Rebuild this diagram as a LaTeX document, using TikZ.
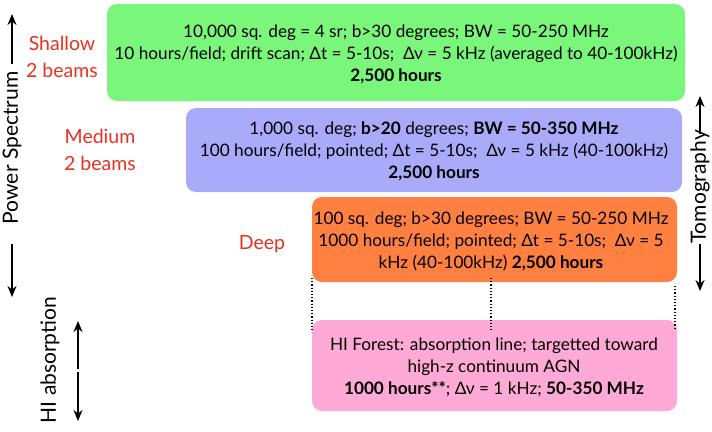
\documentclass[tikz,border=0pt]{standalone}
\usepackage{fontspec}
\setmainfont{Lato}
\usetikzlibrary{arrows.meta}
\definecolor{gbox}{RGB}{122,246,122}
\definecolor{bbox}{RGB}{170,170,250}
\definecolor{obox}{RGB}{255,128,64}
\definecolor{pbox}{RGB}{255,170,214}
\definecolor{redlab}{RGB}{232,50,30}
\tikzset{
  surveybox/.style={rounded corners=10pt, draw=none},
  boxtext/.style={align=center, font=\fontsize{17.2}{22}\selectfont, inner sep=0pt},
  redlabel/.style={text=redlab, align=center, font=\fontsize{19.5}{27}\selectfont, inner sep=0pt},
  sidelabel/.style={rotate=90, font=\fontsize{21}{22}\selectfont, inner sep=0pt},
  axarrow/.style={-{Stealth[length=11pt,width=9pt]}, line width=2pt},
  linker/.style={dotted, line width=1.2pt}
}
\begin{document}
\begin{tikzpicture}[x=1pt,y=-1pt]
\useasboundingbox (0,0) rectangle (712,431);
% boxes
\fill[gbox, surveybox] (107,4) rectangle (685,101);
\fill[bbox, surveybox] (186,108) rectangle (682,192);
\fill[obox, surveybox] (312,197) rectangle (677,282);
\fill[pbox, surveybox] (312,320) rectangle (677,411);
% dotted links
\coordinate (dl1) at (312,278); \coordinate (dl2) at (312,332);
\coordinate (dm1) at (491,278); \coordinate (dm2) at (491,330);
\coordinate (dr1) at (675,286); \coordinate (dr2) at (675,330);
\draw[linker] (dl1) -- (dl2);
\draw[linker] (dm1) -- (dm2);
\draw[linker] (dr1) -- (dr2);
% texts
\node[boxtext] (gt) at (396,54) {10,000 sq. deg = 4 sr; b>30 degrees; BW = 50-250 MHz\\
10 hours/field; drift scan; Δt = 5-10s;\ \ Δν = 5 kHz (averaged to 40-100kHz)\\
\textbf{2,500 hours}};
\node[boxtext] (bt) at (434,151) {1,000 sq. deg; \textbf{b>20} degrees; \textbf{BW = 50-350 MHz}\\
100 hours/field; pointed; Δt = 5-10s;\ \ Δν = 5 kHz (40-100kHz)\\
\textbf{2,500 hours}};
\node[boxtext] (ot) at (491,241) {100 sq. deg; b>30 degrees; BW = 50-250 MHz\\
1000 hours/field; pointed; Δt = 5-10s;\ \ Δν = 5\\
kHz (40-100kHz) \textbf{2,500 hours}};
\node[boxtext] (pt) at (494,367) {HI Forest: absorption line; targetted toward\\
high-z continuum AGN\\
\textbf{1000 hours**}; Δν = 1 kHz; \textbf{50-350 MHz}};
% red labels
\node[redlabel] (shallow) at (62,57) {Shallow\\2 beams};
\node[redlabel] (medium) at (100,150) {Medium\\2 beams};
\node[redlabel] (deep) at (262,244) {Deep};
% side labels
\node[sidelabel] (ps) at (12,148) {Power Spectrum};
\coordinate (ps0) at (12,64); \coordinate (psup) at (12,14);
\coordinate (ps1) at (12,244); \coordinate (psdn) at (12,297);
\draw[axarrow] (ps0) -- (psup);
\draw[axarrow] (ps1) -- (psdn);
\node[sidelabel] (tomo) at (700,187) {Tomography};
\coordinate (t0) at (700,134); \coordinate (tup) at (700,96);
\coordinate (t1) at (700,244); \coordinate (tdn) at (700,291);
\draw[axarrow] (t0) -- (tup);
\draw[axarrow] (t1) -- (tdn);
\node[sidelabel] (hi) at (50,360) {HI absorption};
\coordinate (hm0) at (78,369); \coordinate (hup) at (78,321);
\coordinate (hm1) at (78,372); \coordinate (hdn) at (78,421);
\draw[axarrow] (hm0) -- (hup);
\draw[axarrow] (hm1) -- (hdn);
\end{tikzpicture}
\end{document}
